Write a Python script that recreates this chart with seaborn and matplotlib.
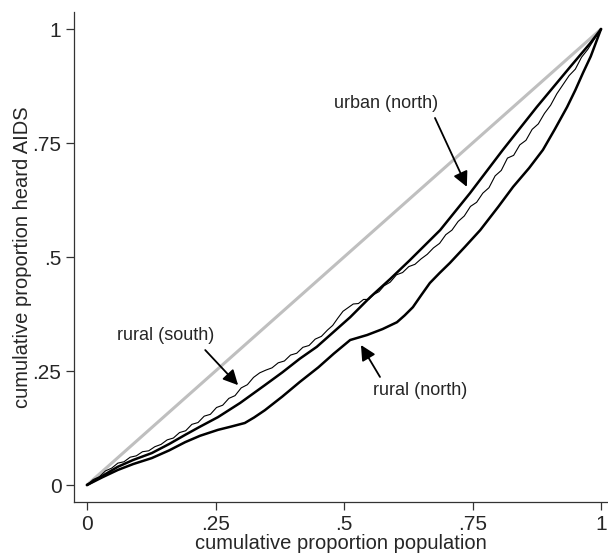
import matplotlib
matplotlib.use("Agg")
import matplotlib.pyplot as plt
import seaborn as sns
import pandas as pd

# Concentration curves: cumulative share of population vs cumulative share who heard of AIDS
urban_north_x = [0.000, 0.030, 0.060, 0.090, 0.126, 0.160, 0.191, 0.220, 0.255, 0.298,
                 0.346, 0.380, 0.414, 0.447, 0.480, 0.512, 0.551, 0.590, 0.628, 0.687,
                 0.745, 0.809, 0.875, 0.940, 0.979, 1.000]
urban_north_y = [0.000, 0.020, 0.040, 0.055, 0.070, 0.090, 0.110, 0.128, 0.149, 0.180,
                 0.219, 0.247, 0.277, 0.303, 0.336, 0.368, 0.412, 0.452, 0.493, 0.559,
                 0.640, 0.735, 0.829, 0.917, 0.969, 1.000]

rural_north_x = [0.000, 0.030, 0.060, 0.090, 0.126, 0.160, 0.191, 0.220, 0.255, 0.280,
                 0.307, 0.325, 0.346, 0.380, 0.414, 0.450, 0.480, 0.512, 0.530, 0.545,
                 0.575, 0.603, 0.618, 0.634, 0.650, 0.667, 0.686, 0.706, 0.735, 0.765,
                 0.800, 0.829, 0.860, 0.887, 0.910, 0.934, 0.950, 0.965, 0.980, 0.992, 1.000]
rural_north_y = [0.000, 0.017, 0.033, 0.046, 0.059, 0.076, 0.094, 0.108, 0.121, 0.128,
                 0.136, 0.148, 0.164, 0.194, 0.226, 0.258, 0.288, 0.318, 0.324, 0.329,
                 0.342, 0.357, 0.372, 0.390, 0.416, 0.443, 0.465, 0.487, 0.522, 0.559,
                 0.610, 0.654, 0.695, 0.735, 0.780, 0.829, 0.866, 0.904, 0.940, 0.976, 1.000]

rural_south_x = [0.000, 0.012, 0.024, 0.036, 0.048, 0.060, 0.072, 0.084, 0.096, 0.108,
                 0.120, 0.132, 0.144, 0.156, 0.168, 0.180, 0.192, 0.204, 0.216, 0.228,
                 0.240, 0.252, 0.264, 0.276, 0.288, 0.300, 0.312, 0.324, 0.336, 0.348,
                 0.360, 0.372, 0.384, 0.396, 0.408, 0.420, 0.432, 0.444, 0.456, 0.468,
                 0.478, 0.488, 0.498, 0.508, 0.518, 0.528, 0.538, 0.548, 0.558, 0.568,
                 0.578, 0.590, 0.602, 0.614, 0.626, 0.638, 0.650, 0.662, 0.674, 0.686,
                 0.698, 0.710, 0.722, 0.734, 0.746, 0.758, 0.770, 0.782, 0.794, 0.806,
                 0.818, 0.830, 0.842, 0.854, 0.866, 0.878, 0.890, 0.902, 0.914, 0.926,
                 0.938, 0.950, 0.962, 0.974, 0.986, 1.000]
rural_south_y = [0.000, 0.012, 0.018, 0.031, 0.037, 0.048, 0.051, 0.061, 0.064, 0.073,
                 0.075, 0.084, 0.089, 0.099, 0.103, 0.115, 0.119, 0.133, 0.137, 0.151,
                 0.155, 0.170, 0.175, 0.190, 0.196, 0.213, 0.220, 0.236, 0.246, 0.252,
                 0.257, 0.268, 0.272, 0.285, 0.289, 0.302, 0.306, 0.320, 0.326, 0.340,
                 0.350, 0.366, 0.381, 0.389, 0.397, 0.398, 0.407, 0.407, 0.418, 0.424,
                 0.437, 0.445, 0.461, 0.466, 0.479, 0.484, 0.496, 0.506, 0.520, 0.530,
                 0.549, 0.559, 0.578, 0.590, 0.611, 0.620, 0.640, 0.652, 0.678, 0.690,
                 0.717, 0.723, 0.746, 0.756, 0.780, 0.792, 0.815, 0.833, 0.858, 0.878,
                 0.898, 0.912, 0.938, 0.955, 0.976, 1.000]

equality = [0.0, 1.0]
ticks = [0, 0.25, 0.5, 0.75, 1]
tick_labels = ["0", ".25", ".5", ".75", "1"]

sns.set_style("ticks")
plt.rcParams["font.family"] = ["Liberation Sans", "DejaVu Sans"]

fig = plt.figure(figsize=(6.08, 5.53), dpi=100)
ax = fig.add_axes([0.1217, 0.0922, 0.8783, 0.886])

sns.lineplot(x=equality, y=equality, ax=ax, color="#bfbfbf", linewidth=2.2,
             estimator=None, sort=False)
sns.lineplot(data=pd.DataFrame({"x": rural_north_x, "y": rural_north_y}), x="x", y="y",
             ax=ax, color="black", linewidth=1.8, estimator=None, sort=False)
sns.lineplot(data=pd.DataFrame({"x": urban_north_x, "y": urban_north_y}), x="x", y="y",
             ax=ax, color="black", linewidth=1.8, estimator=None, sort=False)
sns.lineplot(data=pd.DataFrame({"x": rural_south_x, "y": rural_south_y}), x="x", y="y",
             ax=ax, color="black", linewidth=0.8, estimator=None, sort=False)

ax.set_xlim(-0.0253, 1.0136)
ax.set_ylim(-0.0373, 1.0373)
ax.set_xticks(ticks)
ax.set_xticklabels(tick_labels)
ax.set_yticks(ticks)
ax.set_yticklabels(tick_labels)
ax.tick_params(axis="both", direction="out", length=6, width=0.9, pad=3,
               labelsize=15, color="#333333")
for side in ("top", "right"):
    ax.spines[side].set_visible(False)
for side in ("left", "bottom"):
    ax.spines[side].set_linewidth(0.9)
    ax.spines[side].set_color("#333333")

ax.set_xlabel("cumulative proportion population", fontsize=14.5, va="center")
ax.set_ylabel("cumulative proportion heard AIDS", fontsize=14.5, va="center")
ax.xaxis.set_label_coords(0.5, -0.0837)
ax.yaxis.set_label_coords(-0.097, 0.5)

arrow = dict(arrowstyle="-|>,head_length=0.9,head_width=0.45", color="black",
             linewidth=1.3, shrinkA=0, shrinkB=0)
ax.text(0.582, 0.836, "urban (north)", ha="center", va="center", fontsize=13)
ax.annotate("", xy=(0.739, 0.654), xytext=(0.677, 0.805), arrowprops=arrow)
ax.text(0.152, 0.329, "rural (south)", ha="center", va="center", fontsize=13)
ax.annotate("", xy=(0.294, 0.219), xytext=(0.230, 0.296), arrowprops=arrow)
ax.text(0.648, 0.208, "rural (north)", ha="center", va="center", fontsize=13)
ax.annotate("", xy=(0.533, 0.307), xytext=(0.570, 0.237), arrowprops=arrow)

fig.savefig("out.png", dpi=100)
